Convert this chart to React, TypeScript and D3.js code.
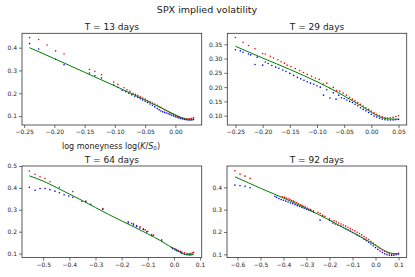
import React, { useRef, useEffect } from 'react';
import * as d3 from 'd3';

type Pt = [number, number];

// titles / axis limits / ticks
const panelTitles = ['T = 13 days', 'T = 29 days', 'T = 64 days', 'T = 92 days'];
const xDomains: Pt[] = [[-0.2535, 0.0435], [-0.265, 0.065], [-0.581, 0.106], [-0.6455, 0.1355]];
const yDomains: Pt[] = [[0.0605, 0.4632], [0.0674, 0.3885], [0.082, 0.5], [0.0857, 0.4955]];
const xTicks = [
  [-0.25, -0.2, -0.15, -0.1, -0.05, 0],
  [-0.25, -0.2, -0.15, -0.1, -0.05, 0, 0.05],
  [-0.5, -0.4, -0.3, -0.2, -0.1, 0, 0.1],
  [-0.6, -0.5, -0.4, -0.3, -0.2, -0.1, 0, 0.1],
];
const yTicks = [
  [0.1, 0.2, 0.3, 0.4],
  [0.1, 0.15, 0.2, 0.25, 0.3, 0.35],
  [0.1, 0.2, 0.3, 0.4, 0.5],
  [0.1, 0.2, 0.3, 0.4],
];
const xFormats = ['.2f', '.2f', '.1f', '.1f'];
const yFormats = ['.1f', '.2f', '.1f', '.1f'];

// T = 13 days
const ask13: Pt[] = [
  [-0.241, 0.444], [-0.226, 0.436], [-0.212, 0.412], [-0.198, 0.386], [-0.184, 0.372],
  [-0.142, 0.304], [-0.133, 0.296], [-0.122, 0.281],
  [-0.102, 0.249], [-0.095, 0.239], [-0.085, 0.224], [-0.08, 0.215], [-0.075, 0.208], [-0.07, 0.2],
  [-0.066, 0.195], [-0.062, 0.19], [-0.058, 0.184], [-0.054, 0.179], [-0.05, 0.174], [-0.046, 0.168],
  [-0.042, 0.163], [-0.038, 0.157], [-0.034, 0.152], [-0.03, 0.147], [-0.027, 0.142], [-0.024, 0.138],
  [-0.021, 0.133], [-0.018, 0.128], [-0.015, 0.124], [-0.012, 0.119], [-0.009, 0.115], [-0.006, 0.111],
  [-0.003, 0.107], [0, 0.103], [0.003, 0.099], [0.006, 0.096], [0.009, 0.093], [0.012, 0.091],
  [0.015, 0.089], [0.018, 0.088], [0.021, 0.088], [0.024, 0.089], [0.027, 0.09], [0.03, 0.092],
];
const bid13: Pt[] = [
  [-0.241, 0.418], [-0.226, 0.394], [-0.198, 0.349], [-0.184, 0.325],
  [-0.142, 0.289], [-0.133, 0.277], [-0.122, 0.267],
  [-0.102, 0.236], [-0.095, 0.226], [-0.088, 0.213], [-0.082, 0.207], [-0.077, 0.2], [-0.072, 0.193],
  [-0.067, 0.187], [-0.062, 0.181], [-0.058, 0.176], [-0.054, 0.17], [-0.05, 0.165], [-0.046, 0.159],
  [-0.042, 0.153], [-0.038, 0.147], [-0.034, 0.14], [-0.03, 0.133], [-0.027, 0.127], [-0.024, 0.122],
  [-0.021, 0.119], [-0.018, 0.116], [-0.015, 0.113], [-0.012, 0.11], [-0.009, 0.107], [-0.006, 0.103],
  [-0.003, 0.1], [0, 0.097], [0.003, 0.094], [0.006, 0.091], [0.009, 0.089], [0.012, 0.087],
  [0.015, 0.085], [0.018, 0.084], [0.021, 0.083], [0.024, 0.083], [0.027, 0.084], [0.03, 0.085],
];
const fit13: Pt[] = [
  [-0.241, 0.4], [-0.2, 0.352], [-0.15, 0.292], [-0.1, 0.232], [-0.07, 0.195], [-0.05, 0.17],
  [-0.04, 0.157], [-0.03, 0.144], [-0.02, 0.131], [-0.01, 0.118], [0, 0.105], [0.01, 0.093],
  [0.015, 0.088], [0.02, 0.085], [0.025, 0.083], [0.03, 0.083],
];

// T = 29 days
const ask29: Pt[] = [
  [-0.25, 0.374], [-0.236, 0.357], [-0.226, 0.346], [-0.214, 0.334], [-0.2, 0.318], [-0.195, 0.316],
  [-0.186, 0.308], [-0.18, 0.302], [-0.172, 0.296], [-0.166, 0.289], [-0.16, 0.284], [-0.155, 0.277],
  [-0.148, 0.272], [-0.14, 0.265], [-0.132, 0.258], [-0.125, 0.251], [-0.118, 0.245], [-0.11, 0.238],
  [-0.103, 0.232], [-0.096, 0.227], [-0.088, 0.211], [-0.082, 0.214], [-0.076, 0.196], [-0.07, 0.199],
  [-0.064, 0.188], [-0.058, 0.186], [-0.052, 0.179], [-0.046, 0.172], [-0.04, 0.164], [-0.035, 0.158],
  [-0.03, 0.152], [-0.025, 0.146], [-0.02, 0.14], [-0.015, 0.134], [-0.01, 0.128], [-0.005, 0.122],
  [0, 0.116], [0.005, 0.11], [0.01, 0.105], [0.015, 0.1], [0.02, 0.096], [0.025, 0.093], [0.03, 0.092],
  [0.035, 0.093], [0.04, 0.094], [0.045, 0.097], [0.05, 0.1],
];
const bid29: Pt[] = [
  [-0.25, 0.331], [-0.241, 0.327], [-0.236, 0.322], [-0.226, 0.316], [-0.222, 0.313], [-0.214, 0.279],
  [-0.21, 0.305], [-0.2, 0.277], [-0.195, 0.288], [-0.19, 0.283], [-0.183, 0.276], [-0.176, 0.27],
  [-0.17, 0.266], [-0.163, 0.26], [-0.157, 0.255], [-0.15, 0.248], [-0.143, 0.241], [-0.136, 0.234],
  [-0.13, 0.229], [-0.124, 0.224], [-0.118, 0.219], [-0.112, 0.214], [-0.106, 0.21], [-0.1, 0.205],
  [-0.094, 0.2], [-0.088, 0.172], [-0.082, 0.191], [-0.076, 0.162], [-0.07, 0.18], [-0.065, 0.158],
  [-0.06, 0.172], [-0.055, 0.163], [-0.05, 0.16], [-0.045, 0.155], [-0.04, 0.15], [-0.035, 0.146],
  [-0.03, 0.14], [-0.025, 0.135], [-0.02, 0.128], [-0.015, 0.122], [-0.01, 0.117], [-0.005, 0.111],
  [0, 0.105], [0.005, 0.099], [0.01, 0.095], [0.015, 0.091], [0.02, 0.088], [0.025, 0.086],
  [0.03, 0.085], [0.035, 0.085], [0.04, 0.085], [0.045, 0.086], [0.05, 0.087],
];
const fit29: Pt[] = [
  [-0.25, 0.343], [-0.2, 0.302], [-0.15, 0.262], [-0.1, 0.219], [-0.06, 0.18], [-0.04, 0.158],
  [-0.02, 0.136], [-0.01, 0.124], [0, 0.112], [0.01, 0.101], [0.02, 0.093], [0.03, 0.089],
  [0.04, 0.088], [0.05, 0.088],
];

// T = 64 days
const ask64: Pt[] = [
  [-0.553, 0.477], [-0.531, 0.462], [-0.512, 0.451], [-0.493, 0.444], [-0.474, 0.428], [-0.438, 0.403],
  [-0.387, 0.383], [-0.337, 0.34], [-0.272, 0.306],
  [-0.175, 0.245], [-0.162, 0.238], [-0.155, 0.236], [-0.143, 0.228], [-0.13, 0.222], [-0.117, 0.213],
  [-0.11, 0.208], [-0.1, 0.202], [-0.085, 0.187], [-0.078, 0.184], [-0.047, 0.163],
  [-0.01, 0.128], [-0.005, 0.126], [0.004, 0.122], [0.01, 0.118], [0.017, 0.114], [0.025, 0.11],
  [0.03, 0.107], [0.04, 0.103], [0.05, 0.1], [0.058, 0.1], [0.065, 0.101], [0.072, 0.104], [0.075, 0.106],
];
const bid64: Pt[] = [
  [-0.553, 0.403], [-0.531, 0.389], [-0.512, 0.397], [-0.493, 0.397], [-0.474, 0.392], [-0.455, 0.385],
  [-0.438, 0.378], [-0.42, 0.369], [-0.402, 0.363], [-0.387, 0.357], [-0.352, 0.339], [-0.337, 0.335],
  [-0.318, 0.325], [-0.272, 0.302],
  [-0.175, 0.24], [-0.155, 0.231], [-0.143, 0.224], [-0.13, 0.217], [-0.117, 0.21], [-0.104, 0.199],
  [-0.085, 0.182], [-0.047, 0.157],
  [-0.005, 0.122], [0.004, 0.117], [0.01, 0.113], [0.017, 0.11], [0.025, 0.105], [0.03, 0.101],
  [0.04, 0.097], [0.05, 0.095], [0.058, 0.094], [0.065, 0.095], [0.072, 0.097],
];
const fit64: Pt[] = [
  [-0.553, 0.455], [-0.5, 0.431], [-0.45, 0.402], [-0.4, 0.372], [-0.35, 0.342], [-0.3, 0.31],
  [-0.25, 0.279], [-0.2, 0.249], [-0.15, 0.22], [-0.1, 0.19], [-0.05, 0.158], [-0.02, 0.136],
  [0, 0.122], [0.02, 0.109], [0.035, 0.1], [0.05, 0.095], [0.06, 0.094], [0.075, 0.095],
];

// T = 92 days
const ask92: Pt[] = [
  [-0.611, 0.474], [-0.589, 0.459], [-0.567, 0.45], [-0.545, 0.44],
  [-0.405, 0.358], [-0.395, 0.355], [-0.388, 0.352], [-0.38, 0.349], [-0.372, 0.346], [-0.365, 0.341],
  [-0.357, 0.338], [-0.35, 0.334], [-0.342, 0.331], [-0.335, 0.326], [-0.327, 0.322], [-0.32, 0.319],
  [-0.312, 0.315], [-0.305, 0.312], [-0.297, 0.307], [-0.29, 0.303], [-0.282, 0.3], [-0.27, 0.295],
  [-0.25, 0.288], [-0.24, 0.283], [-0.23, 0.275], [-0.22, 0.27], [-0.2, 0.26], [-0.19, 0.248],
  [-0.18, 0.25], [-0.17, 0.246], [-0.16, 0.24], [-0.15, 0.236], [-0.14, 0.231], [-0.13, 0.226],
  [-0.12, 0.221], [-0.11, 0.215], [-0.1, 0.21], [-0.09, 0.205], [-0.08, 0.199], [-0.07, 0.193],
  [-0.06, 0.187], [-0.05, 0.18], [-0.04, 0.173], [-0.03, 0.166], [-0.02, 0.158], [-0.01, 0.15],
  [0, 0.142], [0.01, 0.134], [0.02, 0.126], [0.03, 0.119], [0.04, 0.113], [0.05, 0.107],
  [0.06, 0.103], [0.07, 0.101], [0.08, 0.101], [0.09, 0.102], [0.1, 0.105],
];
const bid92: Pt[] = [
  [-0.611, 0.41], [-0.589, 0.407], [-0.567, 0.405], [-0.545, 0.398],
  [-0.437, 0.36], [-0.43, 0.355], [-0.42, 0.35], [-0.41, 0.345], [-0.4, 0.342], [-0.39, 0.338],
  [-0.38, 0.334], [-0.37, 0.33], [-0.36, 0.327], [-0.35, 0.322], [-0.34, 0.318], [-0.33, 0.314],
  [-0.32, 0.31], [-0.31, 0.306], [-0.3, 0.302], [-0.29, 0.298], [-0.28, 0.294], [-0.27, 0.29],
  [-0.241, 0.253], [-0.23, 0.27], [-0.2, 0.252], [-0.185, 0.24], [-0.175, 0.236], [-0.165, 0.231],
  [-0.15, 0.225], [-0.14, 0.22], [-0.13, 0.215], [-0.12, 0.21], [-0.11, 0.204], [-0.1, 0.198],
  [-0.09, 0.193], [-0.08, 0.187], [-0.07, 0.181], [-0.06, 0.175], [-0.05, 0.168], [-0.04, 0.161],
  [-0.03, 0.154], [-0.02, 0.146], [-0.01, 0.138], [0, 0.13], [0.01, 0.122], [0.02, 0.115],
  [0.03, 0.108], [0.04, 0.102], [0.05, 0.098], [0.06, 0.096], [0.07, 0.095], [0.08, 0.096],
  [0.09, 0.098], [0.1, 0.101],
];
const fit92: Pt[] = [
  [-0.611, 0.447], [-0.5, 0.396], [-0.4, 0.352], [-0.3, 0.305], [-0.2, 0.253], [-0.1, 0.198],
  [-0.05, 0.17], [0, 0.141], [0.02, 0.128], [0.04, 0.116], [0.06, 0.107], [0.08, 0.103], [0.1, 0.102],
];

const askSets = [ask13, ask29, ask64, ask92];
const bidSets = [bid13, bid29, bid64, bid92];
const fitSets = [fit13, fit29, fit64, fit92];

// axes boxes in px: [left, top, right, bottom]
const boxes = [
  [22, 33.3, 201.7, 125],
  [227.3, 33.3, 406.7, 125],
  [22, 166, 201.7, 257.5],
  [227, 166, 406.7, 257.5],
];

const FONT = 'DejaVu Sans, sans-serif';

export default function App() {
  const svgRef = useRef<SVGSVGElement>(null);

  useEffect(() => {
    const svg = d3.select(svgRef.current);
    svg.selectAll('*').remove();

    svg.append('text')
      .attr('x', 207)
      .attr('y', 12.5)
      .attr('text-anchor', 'middle')
      .style('font-family', FONT)
      .style('font-size', '9.5px')
      .attr('fill', '#1a1a1a')
      .text('SPX implied volatility');

    boxes.forEach((b, i) => {
      const [l, t, r, bt] = b;
      const x = d3.scaleLinear().domain(xDomains[i]).range([l, r]);
      const y = d3.scaleLinear().domain(yDomains[i]).range([bt, t]);
      const g = svg.append('g');

      // x axis
      g.append('g')
        .attr('transform', `translate(0,${bt})`)
        .call(d3.axisBottom(x).tickValues(xTicks[i]).tickFormat(d3.format(xFormats[i]) as any).tickSize(3).tickPadding(2))
        .call(a => a.select('.domain').remove())
        .call(a => a.selectAll('.tick line').attr('stroke', '#333').attr('stroke-width', 0.7))
        .call(a => a.selectAll('text').attr('fill', '#262626').style('font-size', '6px').style('font-family', FONT));

      // y axis
      g.append('g')
        .attr('transform', `translate(${l},0)`)
        .call(d3.axisLeft(y).tickValues(yTicks[i]).tickFormat(d3.format(yFormats[i]) as any).tickSize(3).tickPadding(2))
        .call(a => a.select('.domain').remove())
        .call(a => a.selectAll('.tick line').attr('stroke', '#333').attr('stroke-width', 0.7))
        .call(a => a.selectAll('text').attr('fill', '#262626').style('font-size', '6px').style('font-family', FONT));

      const clipId = `clip-${i}`;
      svg.append('clipPath').attr('id', clipId)
        .append('rect').attr('x', l).attr('y', t).attr('width', r - l).attr('height', bt - t);

      const plot = g.append('g').attr('clip-path', `url(#${clipId})`);

      plot.selectAll('.ask')
        .data(askSets[i])
        .enter()
        .append('circle')
        .attr('cx', d => x(d[0]))
        .attr('cy', d => y(d[1]))
        .attr('r', 0.8)
        .attr('fill', '#ff0000');

      plot.selectAll('.bid')
        .data(bidSets[i])
        .enter()
        .append('circle')
        .attr('cx', d => x(d[0]))
        .attr('cy', d => y(d[1]))
        .attr('r', 0.8)
        .attr('fill', '#0000ff');

      const line = d3.line<Pt>()
        .x(d => x(d[0]))
        .y(d => y(d[1]))
        .curve(d3.curveMonotoneX);

      plot.append('path')
        .attr('d', line(fitSets[i]))
        .attr('fill', 'none')
        .attr('stroke', '#008000')
        .attr('stroke-width', 1);

      // frame
      g.append('rect')
        .attr('x', l).attr('y', t)
        .attr('width', r - l).attr('height', bt - t)
        .attr('fill', 'none')
        .attr('stroke', '#333')
        .attr('stroke-width', 0.8);

      g.append('text')
        .attr('x', (l + r) / 2)
        .attr('y', t - 3.5)
        .attr('text-anchor', 'middle')
        .style('font-family', FONT)
        .style('font-size', '9px')
        .attr('fill', '#1a1a1a')
        .text(panelTitles[i]);
    });

    // x label (first panel only)
    const xl = svg.append('text')
      .attr('x', 111)
      .attr('y', 148.5)
      .attr('text-anchor', 'middle')
      .style('font-family', FONT)
      .style('font-size', '8px')
      .attr('fill', '#1a1a1a');
    xl.append('tspan').text('log moneyness log(');
    xl.append('tspan').style('font-style', 'italic').text('K');
    xl.append('tspan').text('/');
    xl.append('tspan').style('font-style', 'italic').text('S');
    xl.append('tspan').attr('dy', 1.8).style('font-size', '5.6px').text('0');
    xl.append('tspan').attr('dy', -1.8).text(')');
  }, []);

  return (
    <svg
      ref={svgRef}
      width={415}
      height={277}
      viewBox="0 0 415 277"
      style={{ position: 'absolute', left: 0, top: 0, background: '#fff' }}
    />
  );
}
